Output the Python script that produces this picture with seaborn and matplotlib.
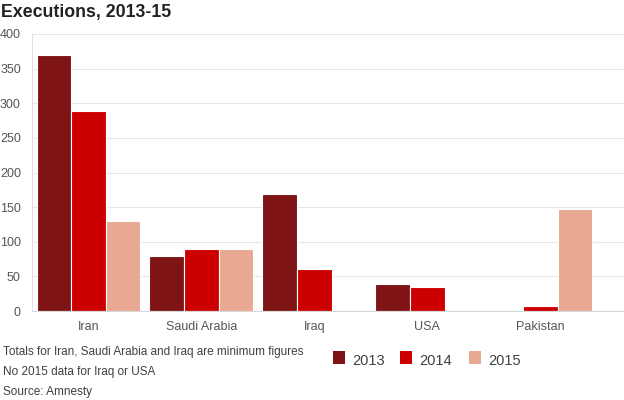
import matplotlib
matplotlib.use("Agg")
import matplotlib.pyplot as plt
import seaborn as sns
import pandas as pd
import numpy as np
from matplotlib.patches import Rectangle

countries = ["Iran", "Saudi Arabia", "Iraq", "USA", "Pakistan"]
years = ["2013", "2014", "2015"]
v2013 = [369, 79, 169, 39, np.nan]
v2014 = [289, 90, 61, 35, 7]
v2015 = [130, 90, np.nan, np.nan, 147]
colors = ["#7e1416", "#cc0000", "#e8a892"]
yticks = [0, 50, 100, 150, 200, 250, 300, 350, 400]
notes = ["Totals for Iran, Saudi Arabia and Iraq are minimum figures",
         "No 2015 data for Iraq or USA",
         "Source: Amnesty"]

rows = []
for yr, vals in zip(years, [v2013, v2014, v2015]):
    for c, v in zip(countries, vals):
        rows.append({"country": c, "year": yr, "value": v})
df = pd.DataFrame(rows)

sns.set_theme(style="white")
plt.rcParams["font.family"] = ["Liberation Sans", "DejaVu Sans"]

fig = plt.figure(figsize=(6.24, 4.0), dpi=100)
ax = fig.add_axes([32/624, 89/400, 592/624, 277/400])

sns.barplot(data=df, x="country", y="value", hue="year", order=countries,
            hue_order=years, palette=colors, width=0.92, gap=0.0,
            edgecolor="white", linewidth=0.8, saturation=1, ax=ax, legend=False)

ax.set_ylim(0, 400)
ax.set_xlim(-0.5, 4.74)
ax.set_yticks(yticks)
ax.set_yticklabels([str(t) for t in yticks])
ax.yaxis.grid(True, color="#e6e6e6", linewidth=0.8)
ax.set_axisbelow(True)
for s in ["top", "right"]:
    ax.spines[s].set_visible(False)
ax.spines["left"].set_color("#e0e0e0")
ax.spines["bottom"].set_color("#d8d8d8")
ax.spines["left"].set_linewidth(0.8)
ax.spines["bottom"].set_linewidth(0.8)
ax.set_xlabel("")
ax.set_ylabel("")
ax.tick_params(axis="y", length=0, pad=8, labelsize=9, labelcolor="#555555")
ax.tick_params(axis="x", length=0, pad=7, labelsize=9, labelcolor="#555555")
ax.set_xticks([-0.5 + i for i in range(6)], minor=True)
ax.tick_params(axis="x", which="minor", length=5, color="#d8d8d8", width=0.8)

fig.text(1/624, 1 - 12/400, "Executions, 2013-15", fontsize=12.8, fontweight="bold",
         color="#222222", va="center", ha="left")

for i, t in enumerate(notes):
    fig.text(3/624, 1 - (352 + 20*i)/400, t, fontsize=8.5, color="#404040",
             va="center", ha="left")

lx = [333, 400, 469]
for x0, yr, col in zip(lx, years, colors):
    fig.patches.append(Rectangle((x0/624, 1 - 364/400), 12/624, 13/400,
                                 transform=fig.transFigure, facecolor=col,
                                 edgecolor="none"))
    fig.text((x0 + 19)/624, 1 - 361/400, yr, fontsize=10.5, color="#404040",
             va="center", ha="left")

fig.savefig("out.png", dpi=100)
